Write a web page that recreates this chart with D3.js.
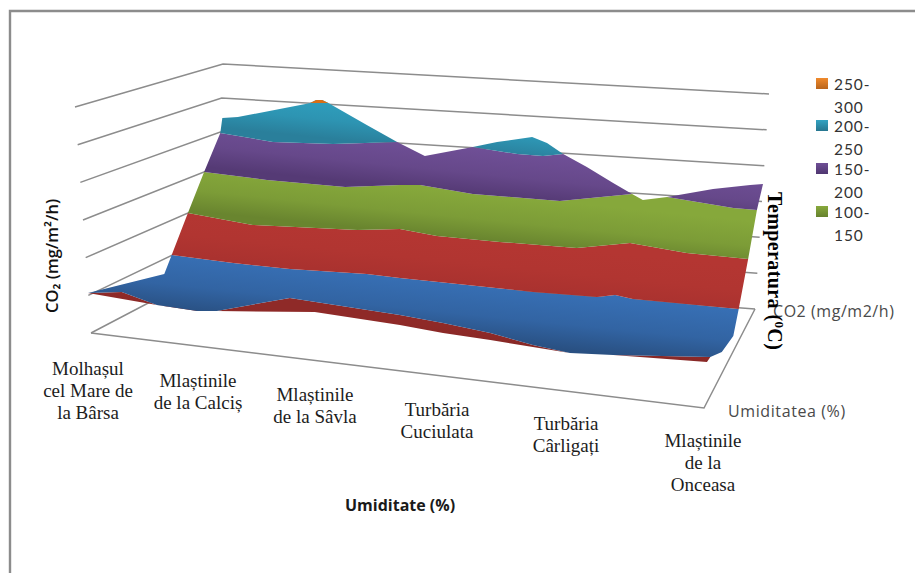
<!DOCTYPE html>
<html>
<head>
<meta charset="utf-8">
<script src="https://cdnjs.cloudflare.com/ajax/libs/d3/7.8.5/d3.min.js"></script>
<style>
  html, body { margin: 0; padding: 0; background: #fff; }
  svg { display: block; }
</style>
</head>
<body>
<svg id="chart" width="915" height="573"></svg>
<script>
// Surface contours: each point is [position along the site axis (0-100), CO2 level in mg/m2/h].
// Levels under zero come from the front rim of the tilted surface, which hangs below the zero plane.
const frontRim = [[0,-6.8],[5,-1],[10.2,-12.1],[16.2,-13.8],[19.1,-11.2],[29.9,13.3],[46.2,7.2],[52.6,3.5],[59.6,-1.8],[65.9,-9.6],[71.4,-13.7],[77.8,-10.8],[92.2,-1.8]];
const underside = [[0,-6.8],[10.2,-12.1],[19.1,-11.2],[33.6,0.2],[46.2,-3.9],[52.6,-7.5],[59.6,-9.4],[65.9,-11.8],[71.4,-13.7],[77.8,-10.8],[91.7,-7.2],[92.2,-1.8]];
const leftRim = [[0,-6.8],[11.3,26.2]];
const rightRim = [[96.4,49.7],[95.6,21.9],[93.9,4.6],[92.2,-1.8]];
const contour50 = [[12.4,50],[21.5,47.4],[29.9,46.7],[41.3,49.4],[46.2,48.5],[56.2,47.8],[65.9,47],[75.4,48.2],[78.1,52.1],[80.7,49.6],[96.4,49.7]];
const contour100 = [[14.8,101.9],[24.4,94],[39.9,98],[46.2,103],[51.7,98.5],[61,97.6],[72.4,97.8],[80.3,107.5],[88.7,101.9],[97.8,100.8]];
const contour150 = [[17.2,152],[26.5,147.6],[38.1,145.6],[46.2,152],[49.2,153.5],[57,147.4],[69.9,146.3],[80.6,158.6],[82.2,153.1],[85.8,157.8],[95.6,151],[99.1,150.6]];
const contour200 = [[19.6,199.4],[27.4,192.1],[36.3,193.6],[45.8,199.7],[49.9,185.9],[57,198.6],[63.6,193.6],[67.4,192.9],[70.4,196.2],[73.9,183.9],[77.8,168.8],[80.6,158.6],[82.2,153.1],[85.8,157.8],[92.6,169],[98.1,175.3],[100,177]];
const peakA = [[19.6,199.4],[19.9,217.2],[22.2,219.2],[32.6,238.5],[32.9,239.2],[33.8,242.9],[34.7,243.2],[35.6,240],[41.3,217.1],[45.8,199.7]];
const peakB = [[57,198.6],[60.6,205.4],[65.8,212.6],[68,207.1],[70.4,196.2]];
const summit = [[32.9,239.2],[33.8,242.9],[34.7,243.2],[35.6,240]];

const siteNames = [
  ["Molhașul", "cel Mare de", "la Bârsa"],
  ["Mlaștinile", "de la Calciș"],
  ["Mlaștinile", "de la Sâvla"],
  ["Turbăria", "Cuciulata"],
  ["Turbăria", "Cârligați"],
  ["Mlaștinile", "de la", "Onceasa"]
];
const siteLabelX = [88, 198, 315, 437, 566, 703];
const siteLabelTop = [375, 387, 401, 416, 430, 447];

const gridLevels = [0, 50, 100, 150, 200, 250, 300];
const legendTexts = [["250-", "300"], ["200-", "250"], ["150-", "200"], ["100-", "150"]];
const legendShades = [["#f08a2c", "#b9651c"], ["#33a3c2", "#27768f"], ["#6f4f96", "#4f3670"], ["#88a93c", "#66822e"]];

const svg = d3.select("#chart");
const defs = svg.append("defs");

// Sheared frame of the 3D view: the baseline and the height of one unit both grow toward the viewer.
const xAt = d3.scaleLinear().domain([0, 100]).range([88, 763]);
const baseAt = d3.scaleLinear().domain([0, 100]).range([287.5, 361]);
const unitAt = d3.scaleLinear().domain([0, 100]).range([0.81, 1.0]);
const yAt = (p, v) => baseAt(p) - unitAt(p) * v;
const outline = d3.line().x(d => xAt(d[0])).y(d => yAt(d[0], d[1]));

// Walls and floor of the box
const wallLeftX = d3.scaleLinear().domain([0, 300]).range([91, 75]);
const wallLeftY = d3.scaleLinear().domain([0, 300]).range([333, 107]);
const cornerX = d3.scaleLinear().domain([0, 300]).range([215, 223]);
const cornerY = d3.scaleLinear().domain([0, 300]).range([268, 64]);
const wallRightX = d3.scaleLinear().domain([0, 300]).range([755, 769]);
const wallRightY = d3.scaleLinear().domain([0, 300]).range([309, 94]);
const floorFront = { x: 704, y: 408 };

const frameColor = "#8c8c8c";
svg.append("path")
  .attr("d", d3.line()([[10, 573], [10, 11], [915, 11]]))
  .attr("fill", "none").attr("stroke", frameColor).attr("stroke-width", 2.4);

const grid = svg.append("g").attr("fill", "none").attr("stroke", "#8c8c8c").attr("stroke-width", 1.5);
grid.selectAll("path.level").data(gridLevels).join("path").attr("class", "level")
  .attr("d", v => d3.line()([
    [wallLeftX(v), wallLeftY(v)],
    [cornerX(v), cornerY(v)],
    [wallRightX(v), wallRightY(v)]
  ]));
grid.append("path").attr("d", d3.line()([
  [wallLeftX(0), wallLeftY(0)],
  [floorFront.x, floorFront.y],
  [wallRightX(0), wallRightY(0)]
]));

// Each band is shaded across its width, following the tilt of its contours
function bandGradient(id, upper, lower, top, bottom) {
  const x1 = xAt(50), y1 = yAt(50, upper), y2 = yAt(50, lower);
  const g = defs.append("linearGradient").attr("id", id).attr("gradientUnits", "userSpaceOnUse")
    .attr("x1", x1).attr("y1", y1).attr("x2", x1 - (y2 - y1) * 0.1).attr("y2", y2);
  g.append("stop").attr("offset", 0).attr("stop-color", top);
  g.append("stop").attr("offset", 0.55).attr("stop-color", d3.interpolateRgb(top, bottom)(0.35));
  g.append("stop").attr("offset", 1).attr("stop-color", bottom);
}
bandGradient("fill-under", 0, -12, "#8f2a28", "#872826");
bandGradient("fill-blue", 50, -12, "#376fb4", "#295082");
bandGradient("fill-red", 100, 50, "#b43632", "#aa322f");
bandGradient("fill-green", 150, 100, "#86a83b", "#69852f");
bandGradient("fill-purple", 200, 150, "#6f4f96", "#553a75");
bandGradient("fill-teal", 240, 195, "#2fa0bf", "#2a7f9b");
bandGradient("fill-orange", 243, 239, "#ee8a2a", "#d96f16");

const rev = a => a.slice().reverse();
const bands = [
  { fill: "url(#fill-under)", pts: frontRim.concat(rev(underside)) },
  { fill: "url(#fill-blue)", pts: leftRim.concat(contour50, rightRim, rev(frontRim)) },
  { fill: "url(#fill-red)", pts: contour50.concat(rev(contour100)) },
  { fill: "url(#fill-green)", pts: contour100.concat(rev(contour150)) },
  { fill: "url(#fill-purple)", pts: contour150.concat(rev(contour200)) },
  { fill: "url(#fill-teal)", pts: peakA.concat(rev(contour200.slice(0, 4))) },
  { fill: "url(#fill-teal)", pts: peakB.concat(rev(contour200.slice(5, 9))) },
  { fill: "url(#fill-orange)", pts: summit }
];
svg.append("g").selectAll("path").data(bands).join("path")
  .attr("d", d => outline(d.pts) + "Z")
  .attr("fill", d => d.fill);

// Site names on the front edge of the floor
const serif = "'Liberation Serif', serif";
const sites = svg.append("g").attr("font-family", serif).attr("font-size", 19)
  .attr("fill", "#1c1c1c").attr("text-anchor", "middle");
siteNames.forEach((lines, i) => {
  sites.selectAll(null).data(lines).join("text")
    .attr("x", siteLabelX[i])
    .attr("y", (d, j) => siteLabelTop[i] + j * 22)
    .text(d => d);
});

// Depth-axis series names
const sans = "'Open Sans', 'Noto Sans', sans-serif";
svg.append("text").attr("x", 773).attr("y", 317).attr("font-family", sans).attr("font-size", 16)
  .attr("letter-spacing", 0.55).attr("fill", "#4a4a4a").text("CO2 (mg/m2/h)");
svg.append("text").attr("x", 728).attr("y", 417).attr("font-family", sans).attr("font-size", 16)
  .attr("letter-spacing", 0.6).attr("fill", "#4a4a4a").text("Umiditatea (%)");

// Axis titles
svg.append("text").attr("x", 345).attr("y", 511).attr("font-family", sans).attr("font-size", 16)
  .attr("font-weight", 700).attr("fill", "#1a1a1a").text("Umiditate (%)");
svg.append("text").attr("transform", "translate(58,313) rotate(-90)")
  .attr("font-family", sans).attr("font-size", 16.5).attr("font-weight", 600).attr("fill", "#111")
  .text("CO₂ (mg/m²/h)");

const tempTitle = svg.append("text").attr("transform", "translate(768,192) rotate(90)")
  .attr("font-family", serif).attr("font-size", 20).attr("font-weight", 700).attr("fill", "#000")
  .attr("letter-spacing", 0.4);
tempTitle.append("tspan").text("Temperatura (");
tempTitle.append("tspan").attr("font-size", 13).attr("dy", -7).text("0");
tempTitle.append("tspan").attr("dy", 7).text("C)");

// Legend with labels wrapped over two lines, set in Lato for its tighter line box
const legendRowY = [78, 120, 163, 206];
legendShades.forEach((shade, i) => {
  const g = defs.append("linearGradient").attr("id", "swatch" + i).attr("x1", 0).attr("y1", 0).attr("x2", 0).attr("y2", 1);
  g.append("stop").attr("offset", 0).attr("stop-color", shade[0]);
  g.append("stop").attr("offset", 1).attr("stop-color", shade[1]);
});
const legend = svg.append("g").selectAll("g").data(legendTexts).join("g")
  .attr("transform", (d, i) => `translate(816,${legendRowY[i]})`);
legend.append("rect").attr("width", 12).attr("height", 11).attr("fill", (d, i) => `url(#swatch${i})`);
legend.selectAll("text").data(d => d).join("text")
  .attr("x", 18).attr("y", (d, j) => 12 + j * 23)
  .attr("font-family", "Lato, sans-serif").attr("font-size", 15.5).attr("letter-spacing", 0.9).attr("fill", "#333")
  .text(d => d);
</script>
</body>
</html>
